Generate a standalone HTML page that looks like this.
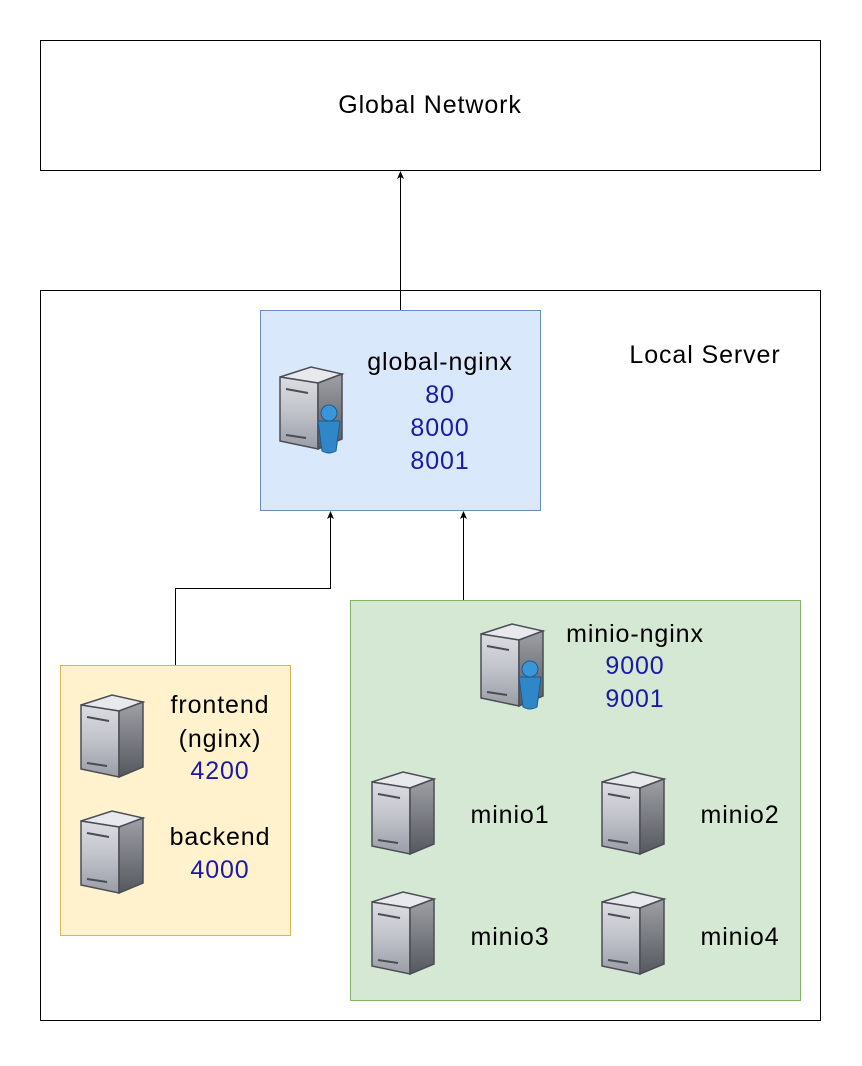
<!DOCTYPE html>
<html><head><meta charset="utf-8"><style>
body{margin:0;background:#fff;}
svg text{font-family:"Liberation Sans",Arial,sans-serif;font-size:25px;letter-spacing:0.9px;}
</style></head><body>
<svg width="862" height="1061" viewBox="0 0 862 1061" xmlns="http://www.w3.org/2000/svg">
<defs>
<linearGradient id="fr" x1="0" y1="0" x2="0" y2="1"><stop offset="0" stop-color="#dcdde2"/><stop offset="0.45" stop-color="#c3c5cc"/><stop offset="1" stop-color="#9a9da6"/></linearGradient>
<linearGradient id="sd" x1="0" y1="0" x2="0" y2="1"><stop offset="0" stop-color="#9ea0a6"/><stop offset="1" stop-color="#55585e"/></linearGradient>
<g id="srv">
<polygon points="2,12 33,2 64,9 40,18" fill="#e8e9ec" stroke="#4a4d55" stroke-width="1.5"/>
<polygon points="2,12 40,18 40,84 2,76" fill="url(#fr)" stroke="#4a4d55" stroke-width="1.5"/>
<polygon points="40,18 64,9 64,74 40,84" fill="url(#sd)" stroke="#4a4d55" stroke-width="1.5"/>
<line x1="8" y1="24" x2="30" y2="28" stroke="#4a4d55" stroke-width="2"/>
<line x1="8" y1="70" x2="28" y2="73" stroke="#4a4d55" stroke-width="2"/>
</g>
<g id="usr">
<path d="M-11,14 L11,14 L7,44 Q0,48 -7,44 Z" fill="#2f87c8" stroke="#1a5c92"/>
<circle cx="0" cy="6" r="8" fill="#3a96d8" stroke="#1a5c92"/>
</g>
</defs>

<rect x="40.5" y="40.5" width="780" height="130" fill="#fff" stroke="#000"/>
<text x="430" y="113" text-anchor="middle">Global Network</text>

<rect x="40.5" y="290.5" width="780" height="730" fill="#fff" stroke="#000"/>
<text x="705" y="363" text-anchor="middle">Local Server</text>

<rect x="260.5" y="310.5" width="280" height="200" fill="#dae8fc" stroke="#6c8ebf"/>
<rect x="60.5" y="665.5" width="230" height="270" fill="#fff2cc" stroke="#d6b656"/>
<rect x="350.5" y="600.5" width="450" height="400" fill="#d5e8d4" stroke="#82b366"/>

<line x1="400.5" y1="310" x2="400.5" y2="176" stroke="#000"/>
<polygon points="400.5,171 397,179 400.5,177 404,179" fill="#000"/>
<polyline points="175.5,665 175.5,588.5 330.5,588.5 330.5,517" fill="none" stroke="#000"/>
<polygon points="330.5,511 327,519 330.5,517 334,519" fill="#000"/>
<line x1="463.5" y1="600" x2="463.5" y2="517" stroke="#000"/>
<polygon points="463.5,511 460,519 463.5,517 467,519" fill="#000"/>

<use href="#srv" x="278" y="365"/><use href="#usr" x="329" y="407"/>
<text x="440" y="370" text-anchor="middle">global-nginx</text>
<text x="440" y="403" text-anchor="middle" fill="#1a1aa6">80</text>
<text x="440" y="436" text-anchor="middle" fill="#1a1aa6">8000</text>
<text x="440" y="469" text-anchor="middle" fill="#1a1aa6">8001</text>

<use href="#srv" x="479" y="622"/><use href="#usr" x="530" y="663"/>
<text x="635" y="642" text-anchor="middle">minio-nginx</text>
<text x="635" y="674" text-anchor="middle" fill="#1a1aa6">9000</text>
<text x="635" y="707" text-anchor="middle" fill="#1a1aa6">9001</text>

<use href="#srv" x="79" y="693"/>
<text x="220" y="713" text-anchor="middle">frontend</text>
<text x="220" y="747" text-anchor="middle">(nginx)</text>
<text x="220" y="779" text-anchor="middle" fill="#1a1aa6">4200</text>
<use href="#srv" x="79" y="809"/>
<text x="220" y="845" text-anchor="middle">backend</text>
<text x="220" y="878" text-anchor="middle" fill="#1a1aa6">4000</text>

<use href="#srv" x="370" y="770"/><text x="510" y="823" text-anchor="middle">minio1</text>
<use href="#srv" x="600" y="770"/><text x="740" y="823" text-anchor="middle">minio2</text>
<use href="#srv" x="370" y="890"/><text x="510" y="945" text-anchor="middle">minio3</text>
<use href="#srv" x="600" y="890"/><text x="740" y="945" text-anchor="middle">minio4</text>
</svg>
</body></html>
